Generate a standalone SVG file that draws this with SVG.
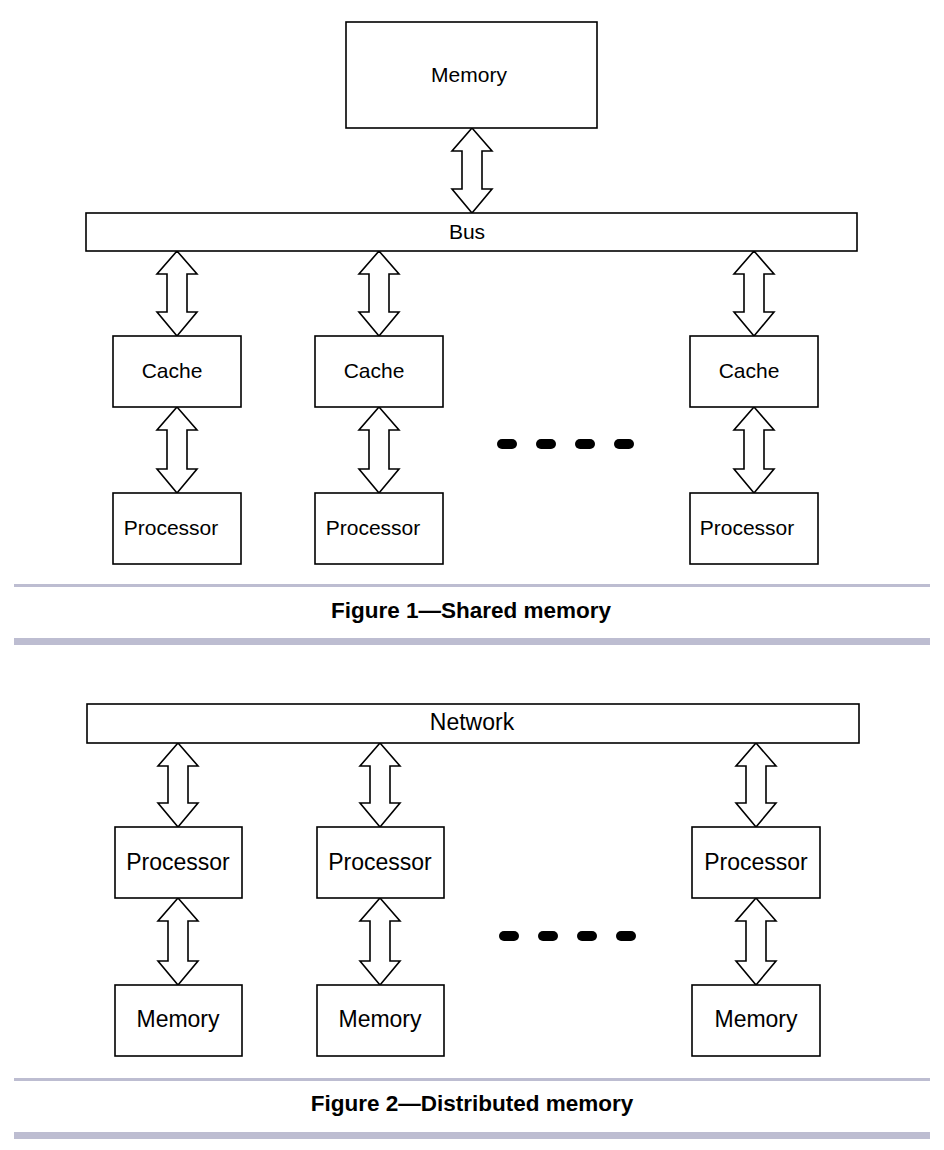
<svg xmlns="http://www.w3.org/2000/svg" width="944" height="1150" viewBox="0 0 944 1150">
<style>
.box{fill:#fff;stroke:#000;stroke-width:1.6}
.arr{fill:#fff;stroke:#000;stroke-width:1.6;stroke-linejoin:miter}
.t1{font-family:"Liberation Sans",Arial,sans-serif;font-size:21px;fill:#000;text-anchor:middle}
.t2{font-family:"Liberation Sans",Arial,sans-serif;font-size:23px;fill:#000;text-anchor:middle}
.cap{font-family:"Liberation Sans",Arial,sans-serif;font-size:22.5px;font-weight:bold;fill:#000;text-anchor:middle}
.dash{stroke:#000;stroke-width:10;stroke-linecap:round}
.sep{fill:#bdbdd1}
</style>
<defs>
<path id="arrow" d="M0,0 L20,23 L10,23 L10,62 L20,62 L0,85 L-20,62 L-10,62 L-10,23 L-20,23 Z"/>
</defs>
<g id="connectors">
<path class="arr" d="M472,128 L492,151 L482,151 L482,189 L492,189 L472,213 L452,189 L462,189 L462,151 L452,151 Z"/>
<path class="arr" d="M177,251 L197,274 L187,274 L187,312 L197,312 L177,336 L157,312 L167,312 L167,274 L157,274 Z"/>
<path class="arr" d="M379,251 L399,274 L389,274 L389,312 L399,312 L379,336 L359,312 L369,312 L369,274 L359,274 Z"/>
<path class="arr" d="M754,251 L774,274 L764,274 L764,312 L774,312 L754,336 L734,312 L744,312 L744,274 L734,274 Z"/>
<path class="arr" d="M177,407 L197,430 L187,430 L187,469 L197,469 L177,493 L157,469 L167,469 L167,430 L157,430 Z"/>
<path class="arr" d="M379,407 L399,430 L389,430 L389,469 L399,469 L379,493 L359,469 L369,469 L369,430 L359,430 Z"/>
<path class="arr" d="M754,407 L774,430 L764,430 L764,469 L774,469 L754,493 L734,469 L744,469 L744,430 L734,430 Z"/>
<path class="arr" d="M178,743 L198,766 L188,766 L188,803 L198,803 L178,827 L158,803 L168,803 L168,766 L158,766 Z"/>
<path class="arr" d="M380,743 L400,766 L390,766 L390,803 L400,803 L380,827 L360,803 L370,803 L370,766 L360,766 Z"/>
<path class="arr" d="M756,743 L776,766 L766,766 L766,803 L776,803 L756,827 L736,803 L746,803 L746,766 L736,766 Z"/>
<path class="arr" d="M178,898 L198,921 L188,921 L188,961 L198,961 L178,985 L158,961 L168,961 L168,921 L158,921 Z"/>
<path class="arr" d="M380,898 L400,921 L390,921 L390,961 L400,961 L380,985 L360,961 L370,961 L370,921 L360,921 Z"/>
<path class="arr" d="M756,898 L776,921 L766,921 L766,961 L776,961 L756,985 L736,961 L746,961 L746,921 L736,921 Z"/>
</g>
<g id="memory-top"><rect class="box" x="346" y="22" width="251" height="106"/><text class="t1" x="469" y="82">Memory</text></g>
<g id="bus"><rect class="box" x="86" y="213" width="771" height="38"/><text class="t1" x="467" y="239">Bus</text></g>
<g id="cache1"><rect class="box" x="113" y="336" width="128" height="71"/><text class="t1" x="172" y="378">Cache</text></g>
<g id="cache2"><rect class="box" x="315" y="336" width="128" height="71"/><text class="t1" x="374" y="378">Cache</text></g>
<g id="cache3"><rect class="box" x="690" y="336" width="128" height="71"/><text class="t1" x="749" y="378">Cache</text></g>
<g id="proc1"><rect class="box" x="113" y="493" width="128" height="71"/><text class="t1" x="171" y="535">Processor</text></g>
<g id="proc2"><rect class="box" x="315" y="493" width="128" height="71"/><text class="t1" x="373" y="535">Processor</text></g>
<g id="proc3"><rect class="box" x="690" y="493" width="128" height="71"/><text class="t1" x="747" y="535">Processor</text></g>
<g id="dots1"><line class="dash" x1="502" y1="444" x2="512" y2="444"/><line class="dash" x1="541" y1="444" x2="551" y2="444"/><line class="dash" x1="580" y1="444" x2="590" y2="444"/><line class="dash" x1="619" y1="444" x2="629" y2="444"/></g>
<g id="caption1"><rect class="sep" x="14" y="584" width="916" height="3"/><text class="cap" x="471" y="618">Figure 1—Shared memory</text><rect class="sep" x="14" y="638" width="916" height="7"/></g>
<g id="network"><rect class="box" x="87" y="704" width="772" height="39"/><text class="t2" x="472" y="730">Network</text></g>
<g id="p1"><rect class="box" x="115" y="827" width="127" height="71"/><text class="t2" x="178" y="870">Processor</text></g>
<g id="p2"><rect class="box" x="317" y="827" width="127" height="71"/><text class="t2" x="380" y="870">Processor</text></g>
<g id="p3"><rect class="box" x="692" y="827" width="128" height="71"/><text class="t2" x="756" y="870">Processor</text></g>
<g id="m1"><rect class="box" x="115" y="985" width="127" height="71"/><text class="t2" x="178" y="1027">Memory</text></g>
<g id="m2"><rect class="box" x="317" y="985" width="127" height="71"/><text class="t2" x="380" y="1027">Memory</text></g>
<g id="m3"><rect class="box" x="692" y="985" width="128" height="71"/><text class="t2" x="756" y="1027">Memory</text></g>
<g id="dots2"><line class="dash" x1="504" y1="936" x2="514" y2="936"/><line class="dash" x1="543" y1="936" x2="553" y2="936"/><line class="dash" x1="582" y1="936" x2="592" y2="936"/><line class="dash" x1="621" y1="936" x2="631" y2="936"/></g>
<g id="caption2"><rect class="sep" x="14" y="1078" width="916" height="3"/><text class="cap" x="472" y="1111">Figure 2—Distributed memory</text><rect class="sep" x="14" y="1132" width="916" height="7"/></g>
</svg>
